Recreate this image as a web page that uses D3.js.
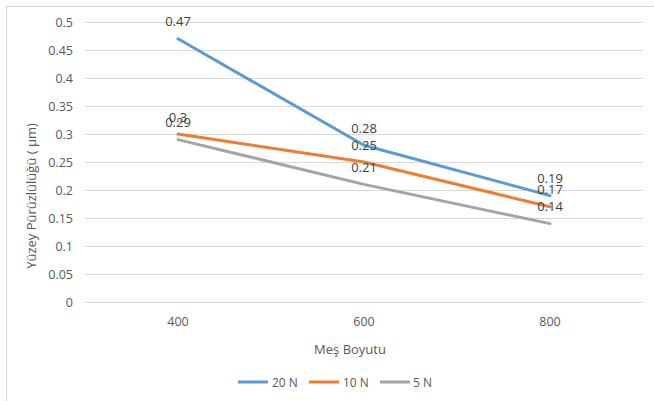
<!DOCTYPE html>
<html>
<head>
<meta charset="utf-8">
<script src="https://cdn.jsdelivr.net/npm/d3@7"></script>
<style>
  html, body { margin: 0; padding: 0; background: #fff; }
  svg { display: block; font-family: "Open Sans", "Liberation Sans", sans-serif; }
</style>
</head>
<body>
<svg id="chart" width="654" height="401"></svg>
<script>
// Mesh sizes on the x axis
const categories = ["400", "600", "800"];
// Surface roughness (µm) for each load
const series20N = [0.47, 0.28, 0.19];
const series10N = [0.3, 0.25, 0.17];
const series5N  = [0.29, 0.21, 0.14];
const seriesNames = ["20 N", "10 N", "5 N"];
const seriesColors = ["#5B9BD5", "#ED7D31", "#A5A5A5"];
const yTicks = [0, 0.05, 0.1, 0.15, 0.2, 0.25, 0.3, 0.35, 0.4, 0.45, 0.5];

const seriesList = [series20N, series10N, series5N].map((vals, i) => ({
  name: seriesNames[i], color: seriesColors[i],
  points: vals.map((v, j) => ({ cat: categories[j], value: v }))
}));

const svg = d3.select("#chart");
const textColor = "#595959";
const plot = { left: 85, right: 643, top: 22, bottom: 302 };

// Chart area border
svg.append("rect")
  .attr("x", 6.5).attr("y", 6.5).attr("width", 660).attr("height", 420)
  .attr("fill", "#fff").attr("stroke", "#d9d9d9").attr("stroke-width", 1);

const x = d3.scaleBand().domain(categories).range([plot.left, plot.right]);
const y = d3.scaleLinear().domain([0, 0.5]).range([plot.bottom, plot.top]);

// Horizontal gridlines and y tick labels
const yAxis = d3.axisLeft(y).tickValues(yTicks).tickFormat(d => String(d))
  .tickSize(-(plot.right - plot.left)).tickPadding(12);
const gy = svg.append("g").attr("transform", `translate(${plot.left},0)`).call(yAxis);
gy.select(".domain").remove();
gy.selectAll(".tick line").attr("stroke", "#d9d9d9").attr("stroke-width", 1);
gy.selectAll(".tick text").attr("fill", textColor).attr("font-size", 12.5)
  .attr("font-family", "'Open Sans', 'Liberation Sans', sans-serif");

// Category labels
const xAxis = d3.axisBottom(x).tickSize(0).tickPadding(15);
const gx = svg.append("g").attr("transform", `translate(0,${plot.bottom})`).call(xAxis);
gx.select(".domain").remove();
gx.selectAll(".tick text").attr("fill", textColor).attr("font-size", 12.5)
  .attr("font-family", "'Open Sans', 'Liberation Sans', sans-serif");

const cx = d => x(d.cat) + x.bandwidth() / 2;

// Series lines
const line = d3.line().x(cx).y(d => y(d.value));
svg.append("g").selectAll("path").data(seriesList).join("path")
  .attr("d", s => line(s.points))
  .attr("fill", "none").attr("stroke", s => s.color)
  .attr("stroke-width", 3).attr("stroke-linecap", "round").attr("stroke-linejoin", "round");

// Data labels above each point
const labels = svg.append("g");
seriesList.forEach(s => {
  labels.selectAll(null).data(s.points).join("text")
    .attr("x", cx).attr("y", d => y(d.value) - 12.5)
    .attr("text-anchor", "middle").attr("fill", "#404040").attr("font-size", 13)
    .text(d => String(d.value));
});

// Axis titles
svg.append("text").attr("x", 350).attr("y", 354).attr("text-anchor", "middle")
  .attr("fill", textColor).attr("font-size", 13).text("Meş Boyutu");
svg.append("text").attr("transform", "translate(36,196) rotate(-90)")
  .attr("text-anchor", "middle").attr("fill", textColor).attr("font-size", 13)
  .text("Yüzey Pürüzlülüğü ( µm)");

// Legend
const legendItems = [
  { x: 238, tx: 272 }, { x: 309, tx: 343 }, { x: 380, tx: 413 }
];
const lg = svg.append("g");
seriesList.forEach((s, i) => {
  const it = legendItems[i];
  lg.append("line").attr("x1", it.x).attr("x2", it.x + 30).attr("y1", 382).attr("y2", 382)
    .attr("stroke", s.color).attr("stroke-width", 3);
  lg.append("text").attr("x", it.tx).attr("y", 386.5).attr("fill", textColor)
    .attr("font-size", 12).text(s.name);
});
</script>
</body>
</html>
